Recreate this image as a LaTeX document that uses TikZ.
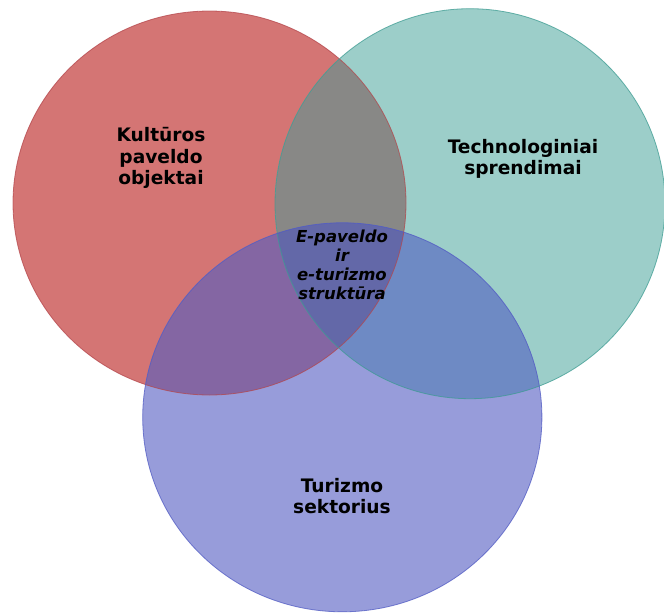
\documentclass[tikz,border=0pt]{standalone}
\usepackage{fontspec}
\setmainfont{DejaVu Sans}
\definecolor{cRed}{RGB}{212,117,116}
\definecolor{cTeal}{RGB}{156,206,201}
\definecolor{cBlue}{RGB}{151,156,218}
\definecolor{cRT}{RGB}{136,136,134}
\definecolor{cRB}{RGB}{132,102,163}
\definecolor{cTB}{RGB}{110,138,196}
\definecolor{cRTB}{RGB}{99,104,168}
\definecolor{eRed}{RGB}{180,70,75}
\definecolor{eTeal}{RGB}{60,155,145}
\definecolor{eBlue}{RGB}{80,90,195}
\def\redE{(209.5,203) ellipse [x radius=196.5pt, y radius=192pt]}
\def\tealE{(470,203.7) ellipse [x radius=195pt, y radius=195pt]}
\def\blueE{(342.3,417.3) ellipse [x radius=199.6pt, y radius=194.5pt]}
\tikzset{
  lbl/.style={align=center, text=black, inner sep=0pt,
    font={\fontsize{18.6}{21.7}\selectfont\bfseries}},
  midlbl/.style={align=center, text=black, inner sep=0pt,
    font={\fontsize{16.5}{19}\selectfont\bfseries\itshape}},
  edge/.style={line width=0.8pt, draw opacity=0.75}
}
\begin{document}
\begin{tikzpicture}[x=1pt,y=-1pt]
\useasboundingbox (0,0) rectangle (664,613);
\fill[white] (0,0) rectangle (664,613);
% single regions
\fill[cRed] \redE;
\fill[cTeal] \tealE;
\fill[cBlue] \blueE;
% pairwise overlaps
\begin{scope}
  \clip \redE;
  \fill[cRT] \tealE;
\end{scope}
\begin{scope}
  \clip \redE;
  \fill[cRB] \blueE;
\end{scope}
\begin{scope}
  \clip \tealE;
  \fill[cTB] \blueE;
\end{scope}
\begin{scope}
  \clip \redE;
  \clip \tealE;
  \fill[cRTB] \blueE;
\end{scope}
% outlines
\draw[edge, eRed] \redE;
\draw[edge, eTeal] \tealE;
\draw[edge, eBlue] \blueE;
% labels
\node[lbl] (kult) at (161,158) {Kultūros\\paveldo\\objektai};
\node[lbl] (tech) at (523,159) {Technologiniai\\sprendimai};
\node[lbl] (tur) at (342,496) {Turizmo\\sektorius};
\node[midlbl] (mid) at (342,265) {E-paveldo\\ir\\e-turizmo\\struktūra};
\end{tikzpicture}
\end{document}
